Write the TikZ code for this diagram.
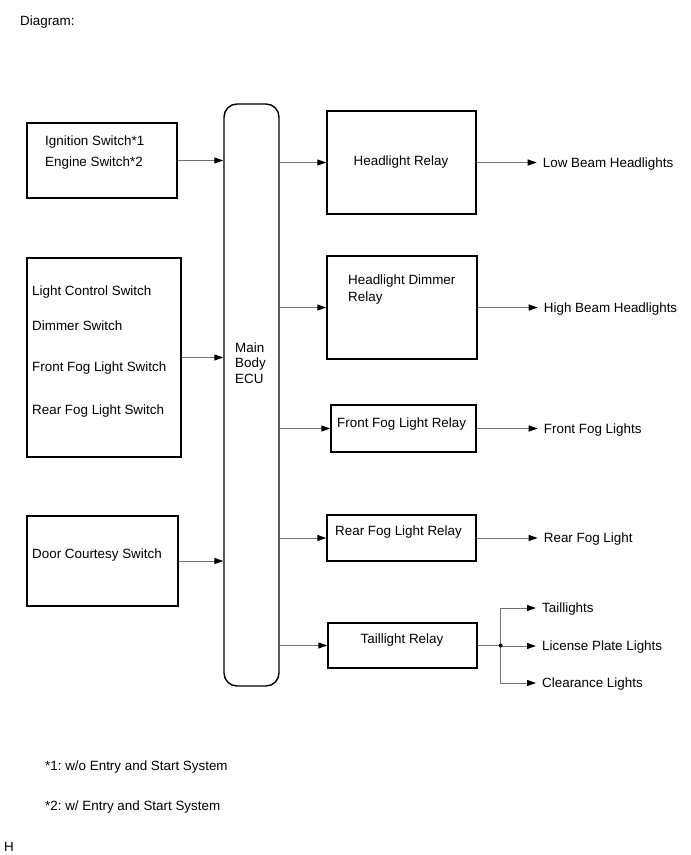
\documentclass[tikz,border=0pt]{standalone}
\usepackage{fontspec}
\setmainfont{Liberation Sans}
\usetikzlibrary{arrows.meta,positioning}
\frenchspacing

\tikzset{
  box/.style={draw=black, line width=1.4pt, inner sep=0pt},
  ecubox/.style={box, rounded corners=13pt},
  conn/.style={draw=black!55, line width=1pt,
    -{Triangle[length=9pt,width=6pt,color=black]}},
  txt/.style={anchor=base west, inner sep=0pt},
  outlbl/.style={anchor=west, inner xsep=6pt, inner ysep=0pt,
    text height=9.5pt, text depth=0pt}
}

\begin{document}
\begin{tikzpicture}[x=1pt, y=-1pt, font=\fontsize{13.4}{16}\selectfont]
  \useasboundingbox (0,0) rectangle (691,855);

  % --- heading ---
  \node[txt] (title) at (20,25) {Diagram:};

  % --- switches on the left ---
  \node[box, minimum width=150pt, minimum height=75pt] (ign) at (102,160.5) {};
  \node[txt] (ignA) at (45,145) {Ignition Switch*1};
  \node[txt] (ignB) at (45,166) {Engine Switch*2};

  \node[box, minimum width=154pt, minimum height=199pt] (lcs) at (104,357.5) {};
  \node[txt] (lcsA) at (32,295) {Light Control Switch};
  \node[txt] (lcsB) at (32,330) {Dimmer Switch};
  \node[txt] (lcsC) at (32,371) {Front Fog Light Switch};
  \node[txt] (lcsD) at (32,414) {Rear Fog Light Switch};

  \node[box, minimum width=151pt, minimum height=90pt] (door) at (102.5,561) {};
  \node[txt] (doorA) at (32,558) {Door Courtesy Switch};

  % --- Main Body ECU ---
  \node[ecubox, minimum width=55pt, minimum height=582pt] (ecu) at (251.5,395) {};
  \node[txt] (ecuA) at (235,352) {Main};
  \node[txt] (ecuB) at (235,367) {Body};
  \node[txt] (ecuC) at (235,383) {ECU};

  % --- relays ---
  \node[box, minimum width=149pt, minimum height=103pt] (hr) at (401.5,162.5) {};
  \node[anchor=base, inner sep=0pt] (hrA) at (401,165) {Headlight Relay};

  \node[box, minimum width=150pt, minimum height=103pt] (hdr) at (402,307.5) {};
  \node[txt] (hdrA) at (348,284) {Headlight Dimmer};
  \node[txt] (hdrB) at (348,301) {Relay};

  \node[box, minimum width=145pt, minimum height=47pt] (ffr) at (403.5,428.5) {};
  \node[txt] (ffrA) at (337,427) {Front Fog Light Relay};

  \node[box, minimum width=149pt, minimum height=46pt] (rfr) at (401.5,538) {};
  \node[txt] (rfrA) at (335,535) {Rear Fog Light Relay};

  \node[box, minimum width=149pt, minimum height=45pt] (tr) at (402.5,645.5) {};
  \node[anchor=base, inner sep=0pt] (trA) at (402,643) {Taillight Relay};

  % --- loads on the right ---
  \node[outlbl, right=60pt of hr] (low) {Low Beam Headlights};
  \node[outlbl, right=60pt of hdr] (high) {High Beam Headlights};
  \node[outlbl, right=61pt of ffr] (ffl) {Front Fog Lights};
  \node[outlbl, right=61pt of rfr] (rfl) {Rear Fog Light};

  \coordinate[right=23pt of tr] (jn);
  \node[outlbl] (tail) at (536,608) {Taillights};
  \node[outlbl] (lic) at (536,646) {License Plate Lights};
  \node[outlbl] (clr) at (536,683) {Clearance Lights};

  % --- connectors: switches to ECU ---
  \draw[conn] (ign.east) -- (ign.east -| ecu.west);
  \draw[conn] (lcs.east) -- (lcs.east -| ecu.west);
  \draw[conn] (door.east) -- (door.east -| ecu.west);

  % --- connectors: ECU to relays ---
  \foreach \r in {hr,hdr,ffr,rfr,tr}
    \draw[conn] (\r.west -| ecu.east) -- (\r.west);

  % --- connectors: relays to loads ---
  \draw[conn] (hr.east) -- (low.west);
  \draw[conn] (hdr.east) -- (high.west);
  \draw[conn] (ffr.east) -- (ffl.west);
  \draw[conn] (rfr.east) -- (rfl.west);

  \draw[draw=black!55, line width=1pt] (tr.east) -- (jn);
  \draw[conn] (jn) |- (tail.west);
  \draw[conn] (jn) -- (lic.west -| jn) -- (lic.west);
  \draw[conn] (jn) |- (clr.west);
  \fill (jn) circle (2pt);

  % --- notes ---
  \node[txt] (note1) at (45,770) {*1: w/o Entry and Start System};
  \node[txt] (note2) at (45,810) {*2: w/ Entry and Start System};
  \node[txt] (mark) at (4,851) {H};
\end{tikzpicture}
\end{document}
